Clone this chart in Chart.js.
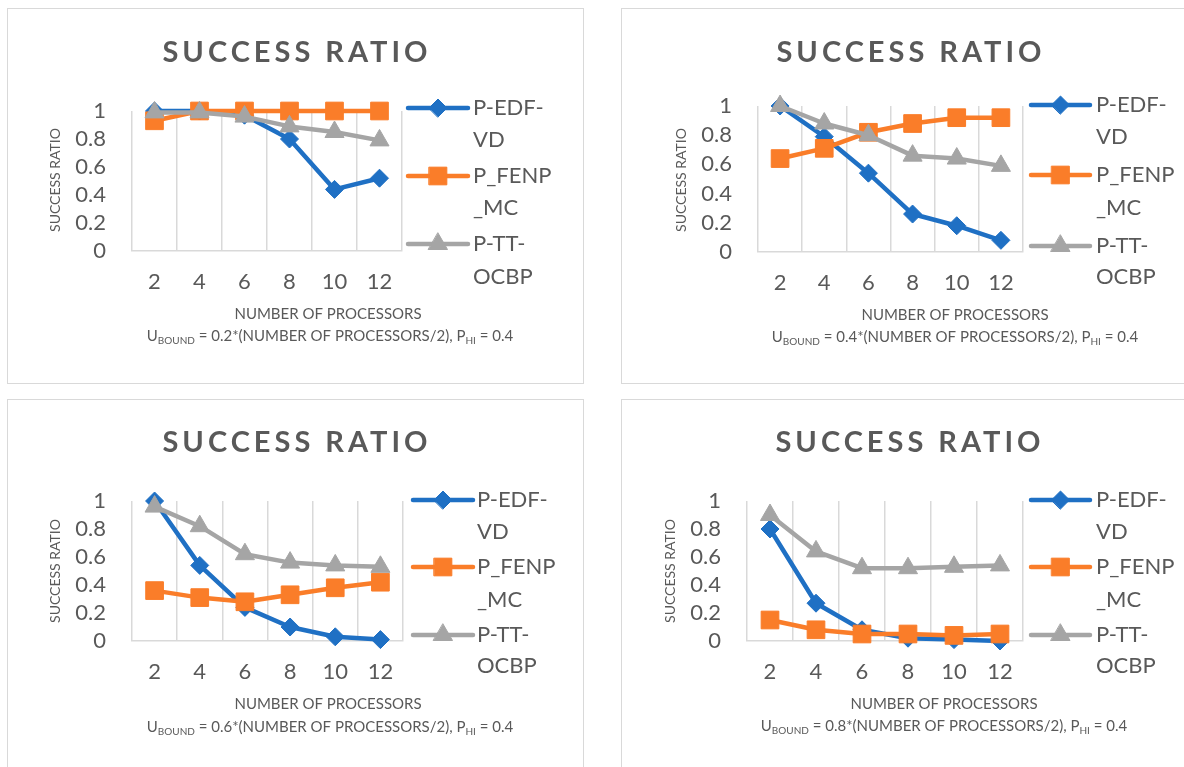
<!DOCTYPE html>
<html>
<head>
<meta charset="utf-8">
<script src="https://cdn.jsdelivr.net/npm/chart.js@4.4.1/dist/chart.umd.min.js"></script>
<style>
  html, body { margin: 0; padding: 0; background: #fff; overflow: hidden; width: 1184px; height: 767px; }
  .panel { position: absolute; border: 1px solid #d9d9d9; box-sizing: border-box; background: #fff; overflow: visible; }
  .panel canvas { position: absolute; left: -1px; top: -1px; }
</style>
</head>
<body>
<script>
// ---- data ----
const processors = ['2', '4', '6', '8', '10', '12'];
const yTickLabels = ['0', '0.2', '0.4', '0.6', '0.8', '1'];
const seriesLegend = [['P-EDF-', 'VD'], ['P_FENP', '_MC'], ['P-TT-', 'OCBP']];
const uFactors = ['0.2', '0.4', '0.6', '0.8'];

// U_bound = 0.2 * (processors / 2)
const edf02  = [1.00, 1.00, 0.97, 0.80, 0.44, 0.52];
const fenp02 = [0.93, 1.00, 1.00, 1.00, 1.00, 1.00];
const tt02   = [0.99, 0.99, 0.96, 0.89, 0.85, 0.79];

// U_bound = 0.4 * (processors / 2)
const edf04  = [1.00, 0.79, 0.54, 0.26, 0.18, 0.08];
const fenp04 = [0.64, 0.71, 0.82, 0.88, 0.92, 0.92];
const tt04   = [1.00, 0.88, 0.80, 0.66, 0.64, 0.59];

// U_bound = 0.6 * (processors / 2)
const edf06  = [1.00, 0.54, 0.24, 0.10, 0.03, 0.01];
const fenp06 = [0.36, 0.31, 0.28, 0.33, 0.38, 0.42];
const tt06   = [0.96, 0.82, 0.62, 0.56, 0.54, 0.53];

// U_bound = 0.8 * (processors / 2)
const edf08  = [0.80, 0.27, 0.08, 0.02, 0.01, 0.00];
const fenp08 = [0.15, 0.08, 0.05, 0.05, 0.04, 0.05];
const tt08   = [0.90, 0.64, 0.52, 0.52, 0.53, 0.54];

// ---- styling ----
const BLUE = '#1F70C4';
const ORANGE = '#FA7D29';
const GRAY = '#A5A5A5';
const TEXT = '#595959';
const GRID = '#d9d9d9';
const FONT = 'Lato, "Open Sans", sans-serif';

const seriesStyle = [
  { color: BLUE,   pointStyle: 'rectRot',  radius: 9,  order: 3 },
  { color: ORANGE, pointStyle: 'rect',     radius: 12.5, order: 2 },
  { color: GRAY,   pointStyle: 'triangle', radius: 11, order: 1 }
];

// panel boxes and inner positions, in page pixels
const panels = [
  { x: 7,   y: 8,   w: 577, h: 376, area: { l: 132, r: 402, t: 111, b: 251 },
    titleX: 295, titleY: 53, yTitleX: 55, yTitleY: 180, xTitleX: 328, xTitleY: 314, subX: 330, subY: 336,
    legLine: [408, 468], legText: 473, legRows: [108, 140, 176, 208, 244, 277],
    series: [edf02, fenp02, tt02], u: uFactors[0] },
  { x: 621, y: 8,   w: 600, h: 376, area: { l: 758, r: 1023, t: 106, b: 252 },
    titleX: 909, titleY: 53, yTitleX: 681, yTitleY: 180, xTitleX: 955, xTitleY: 315, subX: 955, subY: 337,
    legLine: [1031, 1090], legText: 1096, legRows: [105, 137, 175, 208, 246, 277],
    series: [edf04, fenp04, tt04], u: uFactors[1] },
  { x: 7,   y: 399, w: 577, h: 380, area: { l: 132, r: 403, t: 501, b: 641 },
    titleX: 295, titleY: 443, yTitleX: 55, yTitleY: 571, xTitleX: 328, xTitleY: 704, subX: 330, subY: 727,
    legLine: [413, 473], legText: 477, legRows: [500, 532, 567, 600, 635, 666],
    series: [edf06, fenp06, tt06], u: uFactors[2] },
  { x: 621, y: 399, w: 600, h: 380, area: { l: 747, r: 1023, t: 501, b: 641 },
    titleX: 908, titleY: 443, yTitleX: 670, yTitleY: 571, xTitleX: 944, xTitleY: 704, subX: 944, subY: 726,
    legLine: [1031, 1090], legText: 1096, legRows: [500, 532, 567, 600, 635, 666],
    series: [edf08, fenp08, tt08], u: uFactors[3] }
];

Chart.defaults.font.family = FONT;
Chart.defaults.color = TEXT;

function drawMarker(ctx, style, x, y) {
  if (Chart.helpers && Chart.helpers.drawPoint) {
    Chart.helpers.drawPoint(ctx, { pointStyle: style.pointStyle, radius: style.radius, rotation: 0, borderWidth: 1 }, x, y);
  }
}

// titles, axis captions and the wrapped legend
function decorations(p) {
  return {
    id: 'decorations',
    afterDraw(chart) {
      const ctx = chart.ctx;
      const ox = p.x, oy = p.y;
      ctx.save();
      ctx.fillStyle = TEXT;

      // chart title
      ctx.font = 'bold 29px ' + FONT;
      ctx.letterSpacing = '4px';
      ctx.textAlign = 'center';
      ctx.textBaseline = 'middle';
      ctx.fillText('SUCCESS RATIO', p.titleX - ox + 2, p.titleY - oy);
      ctx.letterSpacing = '0px';

      // value axis caption
      ctx.save();
      ctx.translate(p.yTitleX - ox, p.yTitleY - oy);
      ctx.rotate(-Math.PI / 2);
      ctx.font = '14px ' + FONT;
      ctx.fillText('SUCCESS RATIO', 0, 0);
      ctx.restore();

      // category axis caption, two lines
      ctx.font = '15px ' + FONT;
      ctx.fillText('NUMBER OF PROCESSORS', p.xTitleX - ox, p.xTitleY - oy);

      const parts = [
        ['U', false], ['BOUND', true],
        [' = ' + p.u + '*(NUMBER OF PROCESSORS/2), P', false], ['HI', true], [' = 0.4', false]
      ];
      const mainFont = '15px ' + FONT, subFont = '10px ' + FONT;
      let total = 0;
      parts.forEach(([t, sub]) => { ctx.font = sub ? subFont : mainFont; total += ctx.measureText(t).width; });
      let x = p.subX - ox - total / 2;
      const base = p.subY - oy + 5;
      ctx.textAlign = 'left';
      ctx.textBaseline = 'alphabetic';
      parts.forEach(([t, sub]) => {
        ctx.font = sub ? subFont : mainFont;
        ctx.fillText(t, x, sub ? base + 3 : base);
        x += ctx.measureText(t).width;
      });

      // legend
      const [lx1, lx2] = p.legLine;
      seriesStyle.forEach((s, i) => {
        const ly = p.legRows[i * 2] - oy;
        ctx.strokeStyle = s.color;
        ctx.fillStyle = s.color;
        ctx.lineWidth = 4.5;
        ctx.lineCap = 'round';
        ctx.beginPath();
        ctx.moveTo(lx1 - ox, ly);
        ctx.lineTo(lx2 - ox, ly);
        ctx.stroke();
        ctx.lineWidth = 1;
        drawMarker(ctx, s, (lx1 + lx2) / 2 - ox, ly);

        ctx.fillStyle = TEXT;
        ctx.font = '22px ' + FONT;
        ctx.textAlign = 'left';
        ctx.textBaseline = 'middle';
        ctx.fillText(seriesLegend[i][0], p.legText - ox, p.legRows[i * 2] - oy);
        ctx.fillText(seriesLegend[i][1], p.legText - ox, p.legRows[i * 2 + 1] - oy);
      });
      ctx.restore();
    }
  };
}

panels.forEach((p) => {
  const box = document.createElement('div');
  box.className = 'panel';
  box.style.left = p.x + 'px';
  box.style.top = p.y + 'px';
  box.style.width = p.w + 'px';
  box.style.height = p.h + 'px';
  const canvas = document.createElement('canvas');
  canvas.width = p.w;
  canvas.height = p.h;
  canvas.style.width = p.w + 'px';
  canvas.style.height = p.h + 'px';
  box.appendChild(canvas);
  document.body.appendChild(box);

  const yAxisW = 60, xAxisH = 50;
  const L = p.area.l - p.x, R = p.area.r - p.x, T = p.area.t - p.y, B = p.area.b - p.y;

  new Chart(canvas, {
    type: 'line',
    data: {
      labels: processors,
      datasets: p.series.map((vals, i) => ({
        label: seriesLegend[i].join(''),
        data: vals,
        borderColor: seriesStyle[i].color,
        backgroundColor: seriesStyle[i].color,
        borderWidth: 4.5,
        borderJoinStyle: 'round',
        borderCapStyle: 'round',
        pointStyle: seriesStyle[i].pointStyle,
        pointRadius: seriesStyle[i].radius,
        pointBorderWidth: 1,
        order: seriesStyle[i].order,
        tension: 0,
        clip: false
      }))
    },
    options: {
      responsive: false,
      animation: false,
      events: [],
      layout: { padding: { left: L - yAxisW, top: T, right: p.w - R, bottom: p.h - B - xAxisH } },
      plugins: { legend: { display: false }, tooltip: { enabled: false }, title: { display: false } },
      scales: {
        x: {
          type: 'category',
          offset: true,
          grid: { display: true, offset: true, color: GRID, lineWidth: 1.5, drawTicks: false },
          border: { display: true, color: GRID, width: 1.5 },
          ticks: { font: { size: 22 }, color: TEXT, padding: 18, maxRotation: 0, autoSkip: false },
          afterFit(s) { s.height = xAxisH; }
        },
        y: {
          min: 0, max: 1,
          grid: { display: false, drawTicks: false },
          border: { display: false },
          ticks: {
            stepSize: 0.2, padding: 26, font: { size: 22 }, color: TEXT, autoSkip: false,
            callback: (v, idx) => yTickLabels[idx]
          },
          afterFit(s) { s.width = yAxisW; }
        }
      }
    },
    plugins: [decorations(p)]
  });
});
</script>
</body>
</html>
